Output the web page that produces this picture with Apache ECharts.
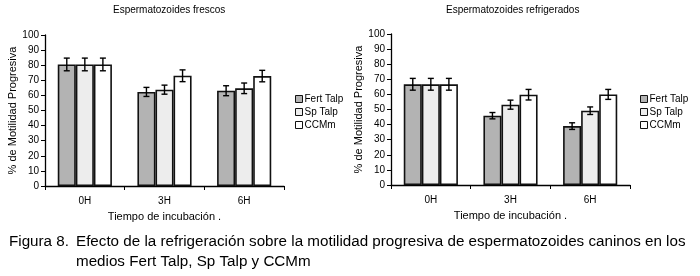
<!DOCTYPE html>
<html>
<head>
<meta charset="utf-8">
<script src="https://cdn.jsdelivr.net/npm/echarts@6/dist/echarts.min.js"></script>
<style>
  html, body { margin: 0; padding: 0; background: #fff; }
  #chart { width: 700px; height: 276px; }
</style>
</head>
<body>
<div id="chart"></div>
<script>
    const categories = ['0H', '3H', '6H']
    const seriesNames = ['Fert Talp', 'Sp Talp', 'CCMm']
    const yTicks = [0, 10, 20, 30, 40, 50, 60, 70, 80, 90, 100]

    // Espermatozoides frescos
    const frescoFert = [80.5, 62.3, 63.1]
    const frescoFertErr = [4.2, 3, 3.3]
    const frescoSp = [80.5, 63.8, 64.7]
    const frescoSpErr = [4.2, 3, 3.5]
    const frescoCC = [80.5, 73, 72.8]
    const frescoCCErr = [4.2, 3.9, 3.8]

    // Espermatozoides refrigerados
    const refriFert = [66.7, 45.9, 39]
    const refriFertErr = [3.9, 2.1, 2.2]
    const refriSp = [66.7, 53.2, 49.2]
    const refriSpErr = [3.9, 3, 2.5]
    const refriCC = [66.7, 59.8, 60]
    const refriCCErr = [3.9, 3.5, 3.3]

    const barColors = ['#b3b3b3', '#ededed', '#ffffff']
    const font = 'Liberation Sans, Arial, sans-serif'
    const captionFont = '15.2px Liberation Sans, Arial, sans-serif'
    const catGap = 0.32

    function barSeries (name, values, k, axis) {
        return {
            name: name,
            type: 'bar',
            xAxisIndex: axis,
            yAxisIndex: axis,
            data: values,
            barGap: '0%',
            barCategoryGap: (catGap * 100) + '%',
            itemStyle: { color: barColors[k], borderColor: '#111', borderWidth: 1.6 },
            emphasis: { disabled: true }
        }
    }

    function errSeries (name, values, errs, k, axis) {
        return {
            name: name,
            type: 'custom',
            xAxisIndex: axis,
            yAxisIndex: axis,
            z: 5,
            data: values.map((v, i) => [i, v - errs[i], v + errs[i]]),
            renderItem: function (params, api) {
                const band = api.size([1, 0])[0]
                const barW = band * (1 - catGap) / 3
                const lo = api.coord([api.value(0), api.value(1)])
                const hi = api.coord([api.value(0), api.value(2)])
                const x = lo[0] + (k - 1) * barW
                const cap = 3
                const style = { stroke: '#000', lineWidth: 1.4 }
                return {
                    type: 'group',
                    children: [
                        { type: 'line', shape: { x1: x, y1: lo[1], x2: x, y2: hi[1] }, style: style },
                        { type: 'line', shape: { x1: x - cap, y1: lo[1], x2: x + cap, y2: lo[1] }, style: style },
                        { type: 'line', shape: { x1: x - cap, y1: hi[1], x2: x + cap, y2: hi[1] }, style: style }
                    ]
                }
            }
        }
    }

    function xAxis (grid) {
        return {
            type: 'category',
            gridIndex: grid,
            data: categories,
            name: 'Tiempo de incubación .',
            nameLocation: 'middle',
            nameGap: 25,
            nameTextStyle: { fontFamily: font, fontSize: 11, color: '#000' },
            axisLine: { lineStyle: { color: '#000', width: 1.3 } },
            axisTick: { show: true, length: 4, lineStyle: { color: '#000' } },
            axisLabel: { fontFamily: font, fontSize: 10, color: '#000', margin: 10 }
        }
    }

    function yAxis (grid) {
        return {
            type: 'value',
            gridIndex: grid,
            min: yTicks[0],
            max: yTicks[yTicks.length - 1],
            interval: yTicks[1] - yTicks[0],
            name: '% de Motilidad Progresiva',
            nameLocation: 'middle',
            nameGap: 26,
            nameTextStyle: { fontFamily: font, fontSize: 11, color: '#000' },
            splitLine: { show: false },
            axisLine: { show: true, lineStyle: { color: '#000', width: 1.3 } },
            axisTick: { show: true, length: 4, lineStyle: { color: '#000' } },
            axisLabel: { fontFamily: font, fontSize: 10, color: '#000', margin: 6 }
        }
    }

    function legend (left) {
        return {
            orient: 'vertical',
            left: left,
            top: 89,
            data: seriesNames,
            icon: 'rect',
            itemWidth: 7,
            itemHeight: 7,
            itemGap: 3,
            selectedMode: false,
            itemStyle: { borderColor: '#111', borderWidth: 1 },
            textStyle: { fontFamily: font, fontSize: 10, color: '#000', padding: [0, 0, 0, -3] }
        }
    }

    const option = {
        animation: false,
        backgroundColor: '#fff',
        grid: [
            { left: 45, top: 35, width: 239, height: 151 },
            { left: 391, top: 34, width: 239, height: 151 }
        ],
        xAxis: [xAxis(0), xAxis(1)],
        yAxis: [yAxis(0), yAxis(1)],
        legend: [legend(290), legend(635)],
        series: [
            barSeries(seriesNames[0], frescoFert, 0, 0),
            barSeries(seriesNames[1], frescoSp, 1, 0),
            barSeries(seriesNames[2], frescoCC, 2, 0),
            errSeries(seriesNames[0], frescoFert, frescoFertErr, 0, 0),
            errSeries(seriesNames[1], frescoSp, frescoSpErr, 1, 0),
            errSeries(seriesNames[2], frescoCC, frescoCCErr, 2, 0),
            barSeries(seriesNames[0], refriFert, 0, 1),
            barSeries(seriesNames[1], refriSp, 1, 1),
            barSeries(seriesNames[2], refriCC, 2, 1),
            errSeries(seriesNames[0], refriFert, refriFertErr, 0, 1),
            errSeries(seriesNames[1], refriSp, refriSpErr, 1, 1),
            errSeries(seriesNames[2], refriCC, refriCCErr, 2, 1)
        ],
        graphic: [
            { type: 'text', left: 169 - 56, top: 5, style: { text: 'Espermatozoides frescos', font: '10px ' + font, fill: '#000' } },
            { type: 'text', left: 515 - 69, top: 5, style: { text: 'Espermatozoides refrigerados', font: '10px ' + font, fill: '#000' } },
            { type: 'text', left: 9, top: 234, style: { text: 'Figura 8.', font: captionFont, fill: '#000' } },
            { type: 'text', left: 76, top: 234, style: { text: 'Efecto de la refrigeración sobre la motilidad progresiva de espermatozoides caninos en los', font: captionFont, fill: '#000' } },
            { type: 'text', left: 76, top: 254, style: { text: 'medios Fert Talp, Sp Talp y CCMm', font: captionFont, fill: '#000' } }
        ]
    }

    const mychart = echarts.init(document.getElementById('chart'))
    mychart.setOption(option)
</script>
</body>
</html>
